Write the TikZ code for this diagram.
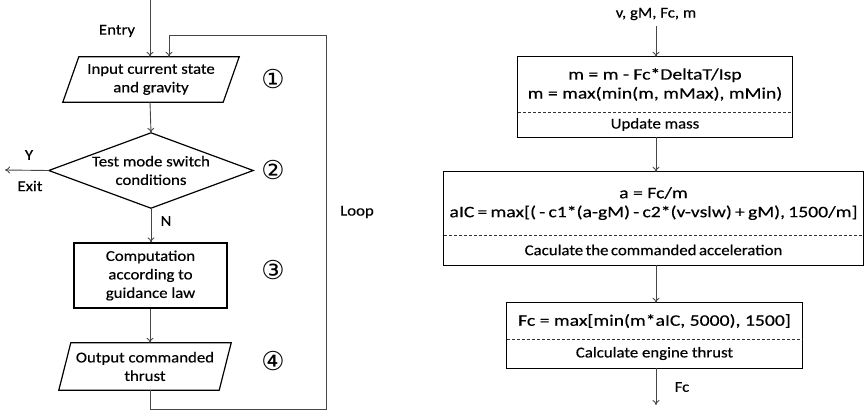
\documentclass[tikz,border=0pt]{standalone}
\usepackage{fontspec}
\setmainfont{Carlito}[FakeStretch=1.12,FakeBold=0.4]
\newfontfamily\formfont{Carlito}[FakeStretch=1.23,FakeBold=0.4]
\newfontfamily\circfont{DejaVu Sans}
\usetikzlibrary{calc,arrows.meta}
\begin{document}
\begin{tikzpicture}[x=1pt,y=-1pt,
  every node/.style={font=\fontsize{15}{18.5}\selectfont, text=black, align=center, inner sep=0pt},
  formula/.style={font=\formfont\fontsize{16}{19}\selectfont},
  shp/.style={draw=none, minimum width=#1},
  box/.style={draw=black, line width=1.2pt},
  arr/.style={draw=black!72, line width=0.9pt, -{To[length=5pt,width=7pt]}},
  dsh/.style={draw=black!80, line width=0.7pt, dash pattern=on 3pt off 2pt},
  circ/.style={font=\circfont\fontsize{26}{26}\selectfont, text=black}]
\useasboundingbox (0,0) rectangle (865,410);

% ---------- left flowchart ----------
\coordinate (entry) at (150,0);
\node (entrylbl) at (117,31) {Entry};

\node[shp=160, minimum height=45] (p1) at (151,79.5) {Input current state\\and gravity};
\draw[box] ($(p1.north west)+(8,0)$) -- ($(p1.north east)+(8,0)$) -- ($(p1.south east)+(-8,0)$) -- ($(p1.south west)+(-8,0)$) -- cycle;

\node[shp=204, minimum height=75] (d2) at (151,170.5) {Test mode switch\\conditions};
\draw[box] (d2.north) -- (d2.east) -- (d2.south) -- (d2.west) -- cycle;

\node[shp=153, minimum height=65, box] (r3) at (150.5,275.5) {Computation\\according to\\guidance law};

\node[shp=160, minimum height=47] (p4) at (145,366.5) {Output commanded\\thrust};
\draw[box] ($(p4.north west)+(6,0)$) -- ($(p4.north east)+(6,0)$) -- ($(p4.south east)+(-6,0)$) -- ($(p4.south west)+(-6,0)$) -- cycle;

\node[circ] (c1) at (273,79) {①};
\node[circ] (c2) at (273,170) {②};
\node[circ] (c3) at (273,270) {③};
\node[circ] (c4) at (273,361) {④};

\coordinate (exit) at (5,170);
\node (ylbl) at (29,155) {Y};
\node (exitlbl) at (30,186) {Exit};
\node (nlbl) at (166,221) {N};
\node (looplbl) at (357,212) {Loop};
\coordinate (lc1) at (326,409);
\coordinate (lc2) at (169,35);

\draw[arr] (entry) -- (entry |- p1.north);
\draw[arr] (p1.south -| entry) -- (d2.north);
\draw[arr] (d2.west) -- (exit);
\draw[arr] (d2.south) -- (d2.south |- r3.north);
\draw[arr] (r3.south -| entry) -- (entry |- p4.north);
\draw[arr] (p4.south -| entry) |- (lc1) |- (lc2) -- (lc2 |- p1.north);

% ---------- right flowchart ----------
\node (inlbl) at (656,14) {v, gM, Fc, m};
\coordinate (inarr) at (656,26);

\node[shp=274, minimum height=55, formula] (b1a) at (655,84.5) {m = m - Fc*DeltaT/Isp\\m = max(min(m, mMax), mMin)};
\node[shp=274, minimum height=25] (b1b) at (655,124.5) {Update mass};
\draw[box] (b1a.north west) rectangle (b1b.south east);
\draw[dsh] (b1a.south west) -- (b1a.south east);

\node[shp=419, minimum height=63, formula] (b2a) at (653.5,203.5) {a = Fc/m\\{\spaceskip=3.2pt aIC = max[( - c1*(a-gM) - c2*(v-vslw) + gM), 1500/m]}};
\node[shp=419, minimum height=30] (b2b) at (653.5,250) {{\spaceskip=2.5pt Caculate the commanded acceleration}};
\draw[box] (b2a.north west) rectangle (b2b.south east);
\draw[dsh] (b2a.south west) -- (b2a.south east);

\node[shp=295, minimum height=36, formula] (b3a) at (654.5,321) {Fc = max[min(m*aIC, 5000), 1500]};
\node[shp=295, minimum height=29] (b3b) at (654.5,353.5) {Calculate engine thrust};
\draw[box] (b3a.north west) rectangle (b3b.south east);
\draw[dsh] (b3a.south west) -- (b3a.south east);

\coordinate (out) at (656,405);
\node (fclbl) at (682,387) {Fc};

\draw[arr] (inarr) -- (inarr |- b1a.north);
\draw[arr] (b1b.south -| out) -- (out |- b2a.north);
\draw[arr] (b2b.south -| out) -- (out |- b3a.north);
\draw[arr] (b3b.south -| out) -- (out);
\end{tikzpicture}
\end{document}
